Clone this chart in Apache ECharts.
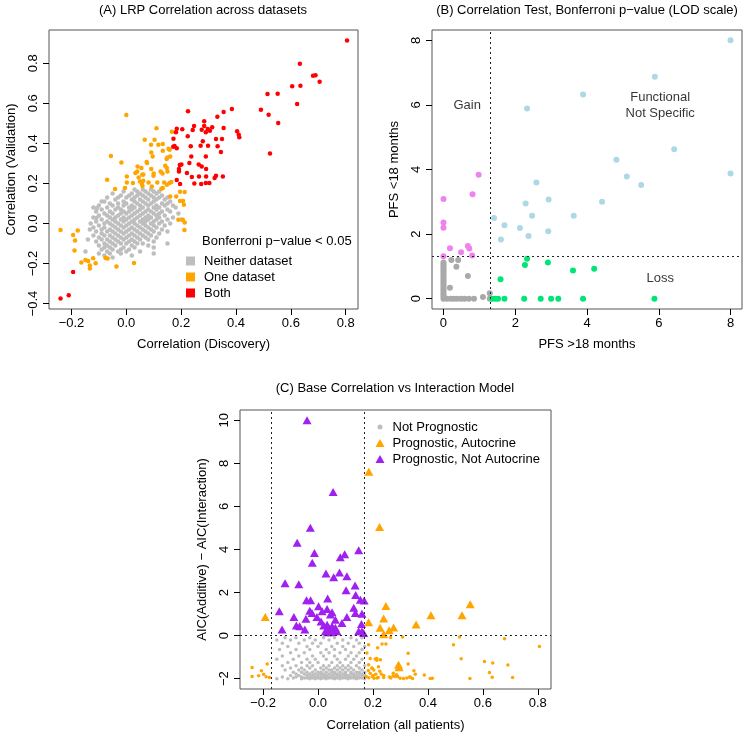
<!DOCTYPE html>
<html><head><meta charset="utf-8">
<script src="https://cdn.jsdelivr.net/npm/echarts@6/dist/echarts.min.js"></script>
<style>html,body{margin:0;padding:0;background:#fff}#c{width:747px;height:737px}</style>
</head><body><div id="c"></div>
<script>
// ---------- Panel A data ----------
const ticksAX = [-0.2, 0.0, 0.2, 0.4, 0.6, 0.8];
const ticksAY = [-0.4, -0.2, 0.0, 0.2, 0.4, 0.6, 0.8];
const legendA = ['Neither dataset', 'One dataset', 'Both'];
const grayARows = [
  [0.17, [0.03, 0.06, 0.09]],
  [0.16, [-0.01, 0.04, 0.07, 0.10, 0.12]],
  [0.15, [-0.05, 0.02, 0.05, 0.08, 0.11]],
  [0.14, [-0.02, 0.01, 0.04, 0.06, 0.09, 0.13]],
  [0.13, [-0.07, -0.03, 0.0, 0.03, 0.07, 0.10, 0.12, 0.15]],
  [0.12, [-0.04, 0.02, 0.05, 0.08, 0.11, 0.14]],
  [0.11, [-0.08, -0.01, 0.03, 0.06, 0.10, 0.16]],
  [0.10, [-0.06, -0.03, 0.0, 0.04, 0.07, 0.09, 0.13, 0.15]],
  [0.09, [-0.10, -0.05, -0.01, 0.02, 0.05, 0.08, 0.11, 0.14, 0.17]],
  [0.08, [-0.12, -0.07, -0.03, 0.01, 0.03, 0.06, 0.10, 0.12]],
  [0.07, [-0.09, -0.04, -0.02, 0.02, 0.05, 0.08, 0.11, 0.15]],
  [0.06, [-0.11, -0.06, -0.01, 0.01, 0.04, 0.07, 0.09, 0.13, 0.16]],
  [0.05, [-0.08, -0.05, -0.02, 0.0, 0.03, 0.06, 0.10, 0.12]],
  [0.04, [-0.10, -0.07, -0.03, 0.02, 0.05, 0.08, 0.11, 0.14]],
  [0.03, [-0.12, -0.06, -0.04, -0.01, 0.01, 0.04, 0.07, 0.09, 0.12, 0.17]],
  [0.02, [-0.09, -0.05, -0.02, 0.0, 0.03, 0.06, 0.08, 0.11, 0.15]],
  [0.01, [-0.11, -0.07, -0.04, -0.01, 0.02, 0.05, 0.07, 0.10, 0.13]],
  [0.00, [-0.13, -0.08, -0.06, -0.03, 0.01, 0.03, 0.06, 0.09, 0.12, 0.16]],
  [-0.01, [-0.10, -0.05, -0.02, 0.0, 0.04, 0.07, 0.10, 0.14]],
  [-0.02, [-0.12, -0.08, -0.04, -0.01, 0.02, 0.05, 0.08, 0.11]],
  [-0.03, [-0.133, -0.09, -0.06, -0.03, 0.01, 0.03, 0.06, 0.09, 0.13]],
  [-0.04, [-0.11, -0.07, -0.05, -0.02, 0.0, 0.04, 0.07, 0.10, 0.15]],
  [-0.05, [-0.09, -0.04, -0.01, 0.02, 0.05, 0.08, 0.12]],
  [-0.06, [-0.12, -0.08, -0.06, -0.03, 0.01, 0.03, 0.06, 0.09]],
  [-0.07, [-0.10, -0.05, -0.02, 0.0, 0.04, 0.07, 0.11]],
  [-0.08, [-0.09, -0.07, -0.04, -0.01, 0.02, 0.05, 0.08]],
  [-0.09, [-0.11, -0.06, -0.03, 0.01, 0.03, 0.10]],
  [-0.10, [-0.08, -0.05, -0.02, 0.0, 0.04, 0.06]],
  [-0.11, [-0.10, -0.07, -0.04, 0.02, 0.08]],
  [-0.12, [-0.08, -0.06, -0.01, 0.03, 0.10]],
  [-0.13, [-0.09, -0.05, -0.02, 0.01]],
  [-0.14, [-0.149, -0.07, -0.03, 0.0, 0.05]],
  [-0.15, [-0.10, -0.06, -0.02, 0.10]],
  [-0.16, [-0.08, 0.02]],
  [-0.17, [-0.05]]
];
const grayAExtra = [[-0.109, 0.027], [-0.107, 0.077], [-0.09, 0.11], [0.18, 0.08], [0.2, 0.02], [0.15, -0.1], [-0.14, -0.08], [0.19, 0.05]];
const orangeA = [[0.0,0.542],[0.11,0.475],[0.166,0.458],[0.067,0.418],[0.103,0.418],[0.09,0.393],[0.133,0.397],[-0.056,0.337],[0.091,0.355],[0.096,0.335],[0.158,0.368],[0.16,0.335],[0.147,0.322],[-0.018,0.305],[0.076,0.302],[0.041,0.285],[0.055,0.277],[0.091,0.272],[0.142,0.288],[0.148,0.277],[0.132,0.25],[0.033,0.252],[0.058,0.243],[0.002,0.235],[-0.07,0.218],[0.099,0.238],[0.002,0.205],[0.024,0.202],[0.05,0.21],[0.057,0.197],[0.062,0.213],[0.059,0.187],[0.081,0.205],[0.113,0.205],[0.158,0.202],[0.164,0.207],[0.138,0.205],[0.148,0.193],[0.133,0.177],[0.128,0.173],[0.093,0.185],[-0.005,0.177],[-0.041,0.172],[0.196,0.158],[0.213,0.157],[0.182,0.135],[0.16,0.135],[0.196,0.112],[0.207,0.112],[0.21,0.093],[0.19,0.018],[0.206,0.018],[0.213,0.005],[0.212,-0.032],[-0.24,-0.032],[-0.177,-0.035],[-0.194,-0.058],[-0.187,-0.085],[-0.189,-0.135],[-0.149,-0.182],[-0.139,-0.187],[-0.121,-0.173],[-0.164,-0.195],[-0.133,-0.21],[-0.133,-0.225],[-0.112,-0.198],[-0.076,-0.172],[-0.068,-0.175],[-0.036,-0.215],[0.028,-0.197],[0.117,0.393],[0.154,0.373],[0.133,0.363],[0.074,0.307],[0.15,0.33],[0.04,0.26],[0.062,0.245],[0.1,0.25],[0.125,0.26],[0.15,0.26],[0.045,0.23]];
const redA = [[0.805,0.913],[0.633,0.798],[0.681,0.738],[0.690,0.740],[0.705,0.708],[0.605,0.685],[0.635,0.688],[0.515,0.647],[0.552,0.648],[0.623,0.597],[0.491,0.568],[0.519,0.543],[0.554,0.502],[0.524,0.35],[0.225,0.56],[0.385,0.572],[0.355,0.557],[0.332,0.533],[0.247,0.487],[0.284,0.51],[0.284,0.487],[0.204,0.47],[0.184,0.473],[0.181,0.455],[0.224,0.435],[0.242,0.467],[0.275,0.468],[0.305,0.463],[0.313,0.48],[0.297,0.472],[0.29,0.455],[0.355,0.477],[0.404,0.46],[0.41,0.443],[0.412,0.43],[0.172,0.423],[0.327,0.422],[0.349,0.422],[0.235,0.385],[0.279,0.41],[0.271,0.388],[0.298,0.388],[0.333,0.385],[0.345,0.357],[0.171,0.383],[0.176,0.387],[0.184,0.375],[0.237,0.335],[0.29,0.335],[0.23,0.302],[0.195,0.292],[0.201,0.295],[0.264,0.295],[0.275,0.285],[0.192,0.272],[0.192,0.26],[0.291,0.272],[0.221,0.252],[0.239,0.232],[0.265,0.235],[0.291,0.235],[0.327,0.238],[0.322,0.227],[0.352,0.235],[0.196,0.197],[0.248,0.2],[0.273,0.197],[0.29,0.202],[0.303,0.202],[0.184,0.217],[-0.194,-0.242],[-0.21,-0.358],[-0.24,-0.375]];

// ---------- Panel B data ----------
const ticksB = [0, 2, 4, 6, 8];
const cutB = 1.3;
const grayB = [[0,0],[0,0.06],[0,0.12],[0,0.18],[0,0.25],[0,0.31],[0,0.37],[0,0.44],[0,0.5],[0,0.56],[0,0.62],[0,0.69],[0,0.75],[0,0.81],[0,0.87],[0,0.94],[0,1.0],[0,1.06],[0,1.12],[0.1,0],[0.2,0],[0.29,0],[0.38,0],[0.49,0],[0.59,0],[0.71,0],[0.85,0],[0.22,1.2],[0.41,1.2],[0.36,0.99],[0.68,0.7],[0.18,0.34],[1.1,0.05],[1.29,0.17],[1.29,0]];
const blueB = [[8,8],[8,3.88],[5.89,6.87],[3.89,6.32],[2.33,5.89],[6.43,4.63],[4.82,4.3],[5.11,3.78],[5.51,3.52],[4.42,3.0],[2.59,3.6],[2.93,3.07],[2.29,2.95],[3.63,2.57],[2.47,2.57],[1.41,2.5],[1.7,2.27],[2.13,2.19],[2.92,2.09],[1.6,1.83],[2.37,1.94]];
const violetB = [[0.98,3.84],[0.81,3.23],[0,3.09],[0,2.36],[0,2.2],[0.18,1.56],[0.49,1.44],[0.68,1.63],[0.72,1.55],[0.8,1.34],[0,1.31]];
const greenB = [[2.33,1.24],[2.27,1.04],[2.91,1.12],[3.61,0.87],[4.2,0.93],[1.59,0.6],[1.36,0],[1.45,0],[1.52,0],[1.7,0],[2.25,0],[2.71,0],[3.0,0],[3.2,0],[3.89,0],[5.88,0]];
const notesB = [[0.66, 5.98, 'Gain'], [6.04, 5.98, 'Functional\nNot Specific'], [6.04, 0.63, 'Loss']];

// ---------- Panel C data ----------
const ticksCX = [-0.2, 0.0, 0.2, 0.4, 0.6, 0.8];
const ticksCY = [-2, 0, 2, 4, 6, 8, 10];
const cutCX = [-0.17, 0.17];
const legendC = ['Not Prognostic', 'Prognostic, Autocrine', 'Prognostic, Not Autocrine'];
const grayCRows = [
  [-0.1, [-0.12, -0.08, -0.03, 0.02, 0.06, 0.12, 0.16]],
  [-0.2, [-0.15, -0.10, -0.05, -0.01, 0.04, 0.09, 0.14]],
  [-0.35, [-0.13, -0.07, -0.02, 0.01, 0.07, 0.11, 0.15]],
  [-0.5, [-0.11, -0.04, 0.0, 0.05, 0.09, 0.13, 0.17]],
  [-0.65, [-0.14, -0.08, -0.03, 0.03, 0.06, 0.10, 0.16]],
  [-0.8, [-0.10, -0.05, 0.01, 0.04, 0.08, 0.12, 0.15]],
  [-0.95, [-0.13, -0.07, -0.02, 0.02, 0.06, 0.11, 0.14]],
  [-1.1, [-0.15, -0.09, -0.04, -0.01, 0.03, 0.07, 0.10, 0.13, 0.16]],
  [-1.25, [-0.11, -0.06, -0.03, 0.0, 0.05, 0.08, 0.12, 0.15]],
  [-1.4, [-0.13, -0.08, -0.04, -0.02, 0.02, 0.04, 0.07, 0.09, 0.11, 0.14, 0.17]],
  [-1.5, [-0.10, -0.06, -0.03, 0.01, 0.03, 0.06, 0.08, 0.10, 0.12, 0.15]],
  [-1.6, [-0.12, -0.07, -0.05, -0.01, 0.02, 0.04, 0.05, 0.07, 0.09, 0.11, 0.13, 0.16]],
  [-1.7, [-0.09, -0.06, -0.04, -0.02, 0.0, 0.01, 0.03, 0.05, 0.06, 0.08, 0.10, 0.12, 0.14, 0.15, 0.17]],
  [-1.78, [-0.08, -0.05, -0.03, -0.01, 0.01, 0.02, 0.04, 0.06, 0.07, 0.09, 0.10, 0.12, 0.13, 0.15, 0.16]],
  [-1.85, [-0.10, -0.07, -0.04, -0.02, 0.0, 0.02, 0.03, 0.05, 0.07, 0.08, 0.10, 0.11, 0.13, 0.14, 0.16, 0.17]],
  [-1.92, [-0.13, -0.08, -0.06, -0.03, -0.01, 0.01, 0.03, 0.04, 0.06, 0.08, 0.09, 0.11, 0.12, 0.14, 0.15, 0.17]],
  [-1.97, [-0.09, -0.05, -0.04, -0.02, 0.0, 0.02, 0.04, 0.05, 0.07, 0.09, 0.10, 0.12, 0.13, 0.15, 0.16]],
  [-2.0, [-0.15, -0.11, -0.06, -0.03, -0.01, 0.01, 0.03, 0.06, 0.08, 0.11, 0.14, 0.17]]
];
const orangeDotC = [[0.264,-0.09],[0.308,-0.06],[0.233,-0.39],[0.247,-0.39],[0.217,-0.56],[0.493,-0.42],[0.515,-0.06],[0.679,-0.14],[0.806,-0.51],[0.328,-0.82],[0.328,-1.32],[0.521,-1.07],[0.606,-1.2],[0.636,-1.27],[0.691,-1.37],[0.624,-1.71],[0.634,-1.93],[0.708,-1.94],[0.553,-1.99],[0.408,-1.99],[0.416,-1.98],[0.387,-1.83],[0.349,-1.63],[0.354,-1.8],[0.336,-1.93],[0.323,-1.97],[0.311,-1.99],[0.299,-1.98],[0.344,-1.99],[0.333,-1.92],[0.274,-1.75],[0.281,-1.9],[0.286,-1.82],[0.273,-1.88],[0.239,-1.95],[0.239,-1.85],[0.214,-1.06],[0.214,-1.14],[0.19,-1.06],[0.22,-1.45],[0.197,-1.52],[0.203,-1.6],[0.21,-1.8],[0.198,-1.9],[0.215,-1.97],[0.204,-1.98],[0.219,-1.95],[0.184,-0.42],[0.178,-0.81],[0.208,-1.09],[0.227,-1.12],[0.184,-1.35],[0.196,-1.51],[0.183,-1.62],[0.225,-1.65],[0.19,-1.75],[0.23,-1.78],[0.2,-1.85],[0.175,-1.9],[0.185,-1.96],[0.26,-1.92],[0.265,-1.97],[0.29,-1.9],[-0.24,-1.48],[-0.185,-1.32],[-0.206,-1.63],[-0.198,-1.79],[-0.24,-1.9],[-0.216,-1.86],[-0.189,-1.91],[-0.177,-1.94]];
const orangeTriC = [[0.185,7.61],[0.224,5.05],[0.247,1.38],[0.239,0.8],[0.184,0.62],[0.226,0.36],[0.239,0.06],[0.259,0.25],[0.275,0.38],[0.357,0.52],[0.411,0.95],[0.524,0.95],[0.554,1.46],[-0.192,0.87],[0.293,-1.35],[0.295,-1.47]];
const purpleC = [[-0.040,10.0],[0.055,6.67],[-0.028,5.01],[-0.076,4.31],[-0.013,3.84],[-0.021,3.38],[0.081,3.64],[0.097,3.78],[0.148,3.97],[0.029,2.88],[0.057,2.71],[0.078,2.93],[0.105,2.76],[-0.12,2.43],[-0.07,2.39],[0.135,2.33],[0.102,2.11],[0.137,1.89],[-0.042,1.64],[-0.027,1.64],[0.035,1.72],[0.154,1.67],[0.168,1.63],[-0.141,1.13],[-0.088,0.87],[-0.079,0.47],[-0.067,0.43],[-0.048,0.28],[-0.131,0.28],[-0.044,0.78],[-0.03,1.16],[-0.022,1.05],[0.002,1.36],[0.015,1.13],[-0.004,0.87],[0.011,0.65],[0.033,1.24],[0.045,0.98],[0.051,1.09],[0.063,0.74],[0.087,0.59],[0.105,0.87],[0.13,1.29],[0.136,1.05],[0.16,1.02],[0.021,0.47],[0.033,0.51],[0.039,0.36],[0.045,0.28],[0.051,0.43],[0.057,0.28],[0.027,0.2],[0.069,0.2],[0.158,0.54],[0.148,0.2],[0.16,0.2],[0.166,0.12],[0.035,0.16],[0.047,0.16],[0.063,0.36]];

// ---------- build ----------
const FONT = '"Liberation Sans", Arial, Helvetica, sans-serif';
const flatRows = rows => rows.flatMap(r => r[1].map(x => [x, r[0]]));
const grayA = flatRows(grayARows).concat(grayAExtra);
const grayC = flatRows(grayCRows);
const fmt1 = v => (v < 0 ? '\u2212' : '') + Math.abs(v).toFixed(1);
const fmt0 = v => (v < 0 ? '\u2212' : '') + Math.abs(v).toFixed(0);
const txt = {color: '#000', fontSize: 13, fontFamily: FONT};

function axis(kind, gi, min, max, ticks, fmt, name, gap) {
  const isY = kind === 'y';
  return {
    type: 'value', gridIndex: gi, min: min, max: max, scale: true,
    position: isY ? 'left' : 'bottom',
    splitLine: {show: false}, axisLine: {show: false, onZero: false},
    axisTick: {show: true, length: 6, customValues: ticks, lineStyle: {color: '#000', width: 1}},
    axisLabel: Object.assign({customValues: ticks, formatter: fmt, margin: isY ? 9 : 8, rotate: isY ? 90 : 0}, txt),
    name: name, nameLocation: 'middle', nameGap: gap, nameTextStyle: txt
  };
}

const gridBase = {show: true, borderColor: '#555', borderWidth: 1, backgroundColor: 'transparent', containLabel: false};
const dotted = {type: [2, 3], color: '#222', width: 1};

const option = {
  backgroundColor: '#fff',
  animation: false,
  grid: [
    Object.assign({left: 49, top: 30, width: 309, height: 279}, gridBase),
    Object.assign({left: 432, top: 30, width: 310, height: 279}, gridBase),
    Object.assign({left: 240, top: 410, width: 311, height: 279}, gridBase)
  ],
  xAxis: [
    axis('x', 0, -0.282, 0.845, ticksAX, fmt1, 'Correlation (Discovery)', 29),
    axis('x', 1, -0.32, 8.32, ticksB, fmt0, 'PFS >18 months', 29),
    axis('x', 2, -0.284, 0.848, ticksCX, fmt1, 'Correlation (all patients)', 30)
  ],
  yAxis: [
    axis('y', 0, -0.427, 0.966, ticksAY, fmt1, 'Correlation (Validation)', 31),
    axis('y', 1, -0.32, 8.32, ticksB, fmt0, 'PFS <18 months', 31),
    axis('y', 2, -2.48, 10.48, ticksCY, fmt0, 'AIC(Additive) \u2212 AIC(Interaction)', 31)
  ],
  legend: [
    {left: 186, top: 253, padding: 0, orient: 'vertical', itemWidth: 9, itemHeight: 9, itemGap: 0, icon: 'rect', selectedMode: false,
     textStyle: Object.assign({lineHeight: 16, padding: [0, 0, 0, 4]}, txt), data: legendA},
    {left: 377.5, top: 419, padding: 0, orient: 'vertical', itemWidth: 5, itemHeight: 5, itemGap: 0, selectedMode: false,
     textStyle: Object.assign({lineHeight: 16, padding: [0, 0, 0, 5]}, txt), data: [{name: legendC[0], icon: 'circle'}]},
    {left: 375.5, top: 435, padding: 0, orient: 'vertical', itemWidth: 9, itemHeight: 8, itemGap: 0, selectedMode: false,
     textStyle: Object.assign({lineHeight: 16, padding: [0, 0, 0, 3]}, txt),
     data: [{name: legendC[1], icon: 'triangle'}, {name: legendC[2], icon: 'triangle'}]}
  ],
  graphic: [
    {type: 'text', x: 203, y: 10, style: {text: '(A) LRP Correlation across datasets', align: 'center', verticalAlign: 'middle', textAlign: 'center', textVerticalAlign: 'middle', fill: '#000', fontSize: 13, fontFamily: FONT}},
    {type: 'text', x: 587, y: 10, style: {text: '(B) Correlation Test, Bonferroni p\u2212value (LOD scale)', align: 'center', verticalAlign: 'middle', textAlign: 'center', textVerticalAlign: 'middle', fill: '#000', fontSize: 13, fontFamily: FONT}},
    {type: 'text', x: 395, y: 388, style: {text: '(C) Base Correlation vs Interaction Model', align: 'center', verticalAlign: 'middle', textAlign: 'center', textVerticalAlign: 'middle', fill: '#000', fontSize: 13, fontFamily: FONT}},
    {type: 'text', x: 202, y: 241, style: {text: 'Bonferroni p\u2212value < 0.05', align: 'left', verticalAlign: 'middle', textAlign: 'left', textVerticalAlign: 'middle', fill: '#000', fontSize: 13, fontFamily: FONT}}
  ],
  series: [
    {type: 'scatter', name: legendA[0], xAxisIndex: 0, yAxisIndex: 0, data: grayA, symbolSize: 4.5, itemStyle: {color: '#BEBEBE', opacity: 1}},
    {type: 'scatter', name: legendA[1], xAxisIndex: 0, yAxisIndex: 0, data: orangeA, symbolSize: 4.5, itemStyle: {color: '#FFA500', opacity: 1}},
    {type: 'scatter', name: legendA[2], xAxisIndex: 0, yAxisIndex: 0, data: redA, symbolSize: 4.5, itemStyle: {color: '#FF0000', opacity: 1}},

    {type: 'scatter', name: 'B none', xAxisIndex: 1, yAxisIndex: 1, data: grayB, symbolSize: 6, itemStyle: {color: '#A9A9A9', opacity: 1},
     markLine: {silent: true, symbol: 'none', label: {show: false}, lineStyle: dotted, data: [{xAxis: cutB}, {yAxis: cutB}]}},
    {type: 'scatter', name: 'B gain', xAxisIndex: 1, yAxisIndex: 1, data: violetB, symbolSize: 6, itemStyle: {color: '#EE82EE', opacity: 1}},
    {type: 'scatter', name: 'B functional', xAxisIndex: 1, yAxisIndex: 1, data: blueB, symbolSize: 6, itemStyle: {color: '#ADD8E6', opacity: 1}},
    {type: 'scatter', name: 'B loss', xAxisIndex: 1, yAxisIndex: 1, data: greenB, symbolSize: 6, itemStyle: {color: '#00E676', opacity: 1}},
    {type: 'scatter', name: 'B notes', xAxisIndex: 1, yAxisIndex: 1, data: notesB, symbolSize: 1, itemStyle: {color: 'transparent'},
     label: Object.assign({show: true, position: 'inside', lineHeight: 16, formatter: p => p.data[2]}, txt)},

    {type: 'scatter', name: legendC[0], xAxisIndex: 2, yAxisIndex: 2, data: grayC, symbolSize: 3.5, itemStyle: {color: '#BEBEBE', opacity: 1},
     markLine: {silent: true, symbol: 'none', label: {show: false}, lineStyle: dotted,
       data: [{xAxis: cutCX[0]}, {xAxis: cutCX[1]}, {yAxis: 0}]}},
    {type: 'scatter', name: 'C autocrine dots', xAxisIndex: 2, yAxisIndex: 2, data: orangeDotC, symbolSize: 3.5, itemStyle: {color: '#FFA500', opacity: 1}},
    {type: 'scatter', name: legendC[1], xAxisIndex: 2, yAxisIndex: 2, data: orangeTriC, symbol: 'triangle', symbolSize: [9, 8], itemStyle: {color: '#FFA500', opacity: 1}},
    {type: 'scatter', name: legendC[2], xAxisIndex: 2, yAxisIndex: 2, data: purpleC, symbol: 'triangle', symbolSize: [9, 8], itemStyle: {color: '#A020F0', opacity: 1}}
  ]
};
const chart = echarts.init(document.getElementById('c'), null, {renderer: 'canvas'});
chart.setOption(option);
</script></body></html>
